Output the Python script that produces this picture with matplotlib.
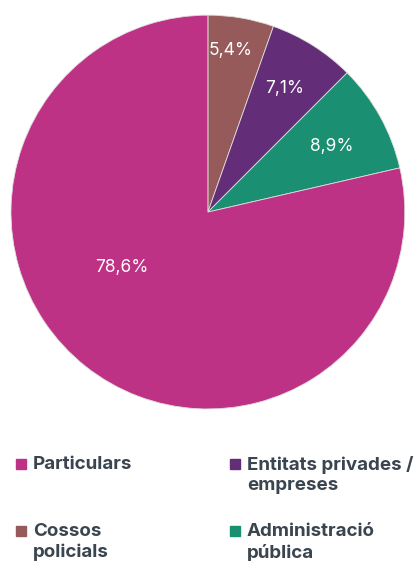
import numpy as np
import matplotlib.pyplot as plt
from matplotlib.patches import Rectangle

# data
categories = ['Cossos\npolicials', 'Entitats privades /\nempreses', 'Administració\npública', 'Particulars']
values = [5.4, 7.1, 8.9, 78.6]
value_labels = ['5,4%', '7,1%', '8,9%', '78,6%']
colors = ['#965A5A', '#642D78', '#1A8F72', '#BE3285']

# label placement (fraction of radius, angle in degrees)
label_r = [0.83, 0.74, 0.71, 0.52]
label_ang = [82, 58, 28, 212.6]

plt.rcParams['font.family'] = ['Inter', 'DejaVu Sans']

fig = plt.figure(figsize=(4.2, 5.61), dpi=100)
ax = fig.add_axes([0.495 - 0.469, 0.622 - 0.351, 0.938, 0.702])

ax.pie(values, colors=colors, startangle=90, counterclock=False,
       wedgeprops=dict(linewidth=0.6, edgecolor='#dddddd'))
ax.set_xlim(-1, 1)
ax.set_ylim(-1, 1)
ax.set_aspect('equal')

for lab, r, a in zip(value_labels, label_r, label_ang):
    ax.text(r * np.cos(np.radians(a)), r * np.sin(np.radians(a)), lab,
            ha='center', va='center', color='white', fontsize=12.5)

# legend (two columns)
text_col = '#3A4550'
order = [3, 1, 0, 2]
pos = [(16, 464), (230, 464), (16, 531), (230, 531)]
for i, (px, py) in zip(order, pos):
    fig.patches.append(Rectangle((px / 420, 1 - (py + 5) / 561), 10 / 420, 10 / 561,
                                 transform=fig.transFigure, color=colors[i]))
    fig.text((px + 17) / 420, 1 - (py - 8) / 561, categories[i], ha='left', va='top',
             fontsize=13.5, fontweight='bold', color=text_col, linespacing=1.25)

fig.savefig('out.png', dpi=100)
